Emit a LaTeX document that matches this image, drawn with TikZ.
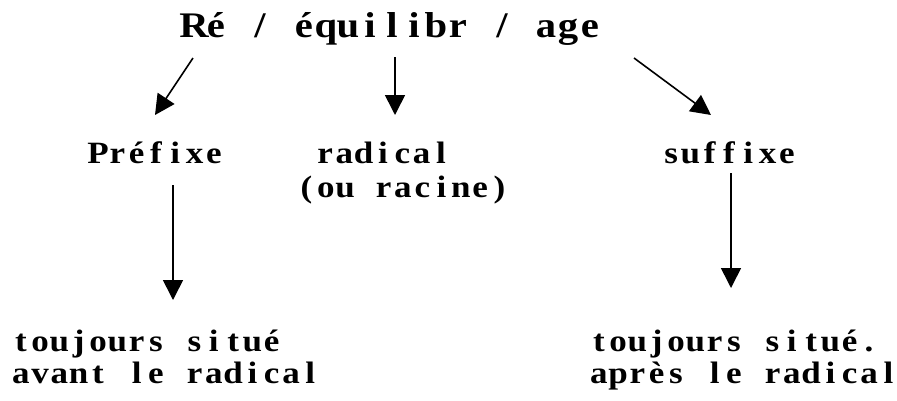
\documentclass[tikz,border=0pt]{standalone}
\usepackage{fontspec}
\setmainfont{Liberation Serif}[FakeStretch=1.13]
\usetikzlibrary{arrows.meta}
\makeatletter
\newcommand\cellstr[2]{\@tfor\mych:=#2\do{\makebox[#1][c]{\mych}}}
\makeatother
\newcommand\bodytxt[1]{\cellstr{19.3pt}{#1}}
\newcommand\titletxt[1]{\cellstr{22pt}{#1}}
\tikzset{
  body/.style={inner sep=0pt, font=\fontsize{31}{31}\selectfont\bfseries},
  ttl/.style={inner sep=0pt, font=\fontsize{36}{36}\selectfont\bfseries},
  arr/.style={-{Triangle[length=20pt,width=20pt]}, line width=1.6pt}
}
\begin{document}
\begin{tikzpicture}[x=1pt,y=-1pt]
\useasboundingbox (0,0) rectangle (897,400);
% title
\node[ttl, anchor=base] (title) at (392,37) {\titletxt{Ré~/~équilibr~/~age}};
% second row
\node[body, anchor=base] (pre) at (156,163) {\bodytxt{Préfixe}};
\node[body, anchor=base] (rad) at (383,163) {\bodytxt{radical}};
\node[body, anchor=base] (rac) at (403,197) {\bodytxt{(ou~racine)}};
\node[body, anchor=base] (suf) at (729,163) {\bodytxt{suffixe}};
% bottom
\node[body, anchor=base west] (l1) at (11,351) {\bodytxt{toujours~situé}};
\node[body, anchor=base west] (l2) at (11,383) {\bodytxt{avant~le~radical}};
\node[body, anchor=base west] (r1) at (589,351) {\bodytxt{toujours~situé.}};
\node[body, anchor=base west] (r2) at (589,383) {\bodytxt{après~le~radical}};
% arrow end points
\coordinate (a1s) at (193,58);  \coordinate (a1e) at (155,115);
\coordinate (a2s) at (395,57);  \coordinate (a2e) at (395,115);
\coordinate (a3s) at (634,58);  \coordinate (a3e) at (711,115);
\coordinate (a4s) at (173,185); \coordinate (a4e) at (173,300);
\coordinate (a5s) at (731,173); \coordinate (a5e) at (731,288);
\draw[arr] (a1s) -- (a1e);
\draw[arr] (a2s) -- (a2e);
\draw[arr] (a3s) -- (a3e);
\draw[arr] (a4s) -- (a4e);
\draw[arr] (a5s) -- (a5e);
\end{tikzpicture}
\end{document}
